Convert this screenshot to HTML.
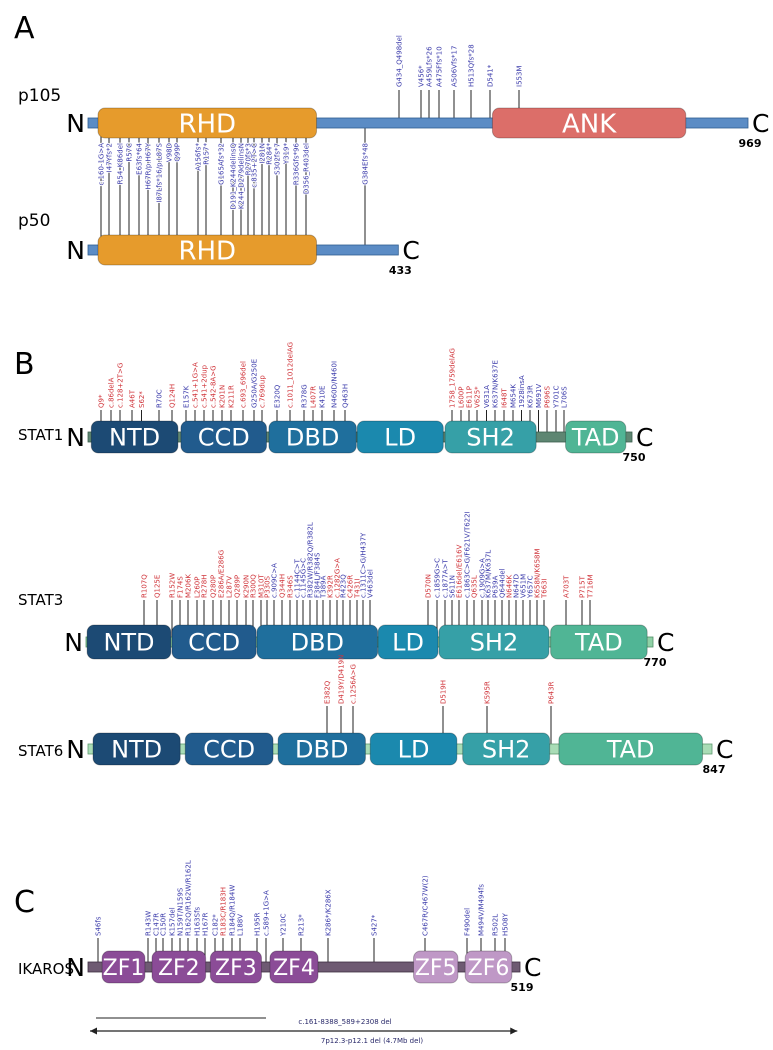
<!DOCTYPE html>
<html><head><meta charset="utf-8"><title>Mutation map</title>
<style>
html,body{margin:0;padding:0;background:#fff;}
svg{display:block;font-family:"DejaVu Sans","Liberation Sans",sans-serif;}
.mut{font-size:7px;}
</style></head>
<body>
<svg id="chart" width="773" height="1050" viewBox="0 0 773 1050" xmlns="http://www.w3.org/2000/svg">
<text x="14" y="38" font-size="30">A</text>
<text x="14" y="374" font-size="30">B</text>
<text x="14" y="912" font-size="30">C</text>
<text x="18" y="101" font-size="17">p105</text>
<text x="18" y="226" font-size="17">p50</text>
<text x="18" y="440" font-size="15">STAT1</text>
<text x="18" y="605" font-size="15">STAT3</text>
<text x="18" y="756" font-size="15">STAT6</text>
<text x="18" y="974" font-size="15">IKAROS</text>
</svg>
<script>
// ---------- NFKB1 (p105 / p50) ----------
const nfkbKnotAa = [1,40,47,54,57,63,67,87,98,99,156,157,165,191,244,270,279,281,284,302,319,336,356,384,434,456,459,475,506,513,541,553,969];
const nfkbKnotPx = [88,101,109,120,129,139,148,159,169,177,198,206,221,233,241,248,254,262,269,277,286,296,306,365,399,421,429,439,454,471,490,519,748];
const p105DomainNames = ['RHD','ANK'];
const p105DomainStart = [31,542];
const p105DomainEnd = [361,856];
const p50DomainNames = ['RHD'];
const p50DomainStart = [31];
const p50DomainEnd = [361];
const p105TopAa = [434,456,459,475,506,513,541,553];
const p105TopLabels = ['G434_Q498del','V456*','A459Lfs*26','A475Ffs*10','A506Vfs*17','H513Qfs*28','D541*','I553M'];
const p105TopClass = ['b','b','b','b','b','b','b','b'];
const sharedAa = [40,47,54,57,63,67,87,98,99,156,157,165,191,244,270,279,281,284,302,319,336,356,384];
const sharedLabels = ['c.160-1G>A','I47Yfs*2','R54_K86del','R57C','E63fs*64','H67R/p.H67Y','I87Lfs*16/p.L87S','V98D','Q99P','A156fs*','R157*','G165Afs*32','D191_K244delinsQ','K244_D279delinsN','R270fs*3','c.835+2T>C','I281N','R284*','S302fs*7','Y319*','R336Gfs*96','D356_R403del','G384Efs*48'];
const sharedClass = ['b','b','b','b','b','b','b','b','b','b','b','b','b','b','b','b','b','b','b','b','b','b','b'];

// ---------- STAT1 ----------
const stat1KnotAa = [1,9,20,29,46,62,70,124,157,171,181,193,201,211,231,250,257,320,337,378,407,410,460,463,586,600,611,625,631,637,648,654,660,673,691,696,701,706,750];
const stat1KnotPx = [88,101,111,120,132,141.5,159,172,186,195,204,213,222,231,243,254,262,277,290,304,313,322,334,345,452,461,469,477,486.5,495,504,513,521.5,530,538.5,547,556,564,632];
const stat1DomainNames = ['NTD','CCD','DBD','LD','SH2','TAD'];
const stat1DomainStart = [3,145,286,477,578,707];
const stat1DomainEnd = [138,276,476,576,686,746];
const stat1MutAa = [9,20,29,46,62,70,124,157,171,181,193,201,211,231,250,257,320,337,378,407,410,460,463,586,600,611,625,631,637,648,654,660,673,691,696,701,706];
const stat1MutLabels = ['Q9*','c.86delA','c.128+2T>G','A46T','S62*','R70C','Q124H','E157K','c.541+1G>A','c.541+2dup','c.542-8A>G','K201N','K211R','c.693_696del','G250A/G250E','c.769dup','E320Q','c.1011_1012delAG','R378G','L407R','K410E','N460D/N460I','Q463H','1758_1759delAG','L600P','E611P','V625*','V631A','K637N/K637E','I648T','M654K','1928insA','K673R','M691V','P696S','Y701C','L706S'];
const stat1MutClass = ['r','r','r','r','r','b','r','b','r','r','r','r','r','r','b','r','b','r','b','r','b','b','b','r','r','r','r','b','b','r','b','b','b','b','r','b','b'];

// ---------- STAT3 ----------
const stat3KnotAa = [1,107,125,152,174,206,260,278,280,286,287,289,290,300,310,330,334,344,346,351,360,382,384,389,392,398,423,426,431,437,463,570,593,601,611,616,621,635,636,637,639,644,646,647,651,657,658,663,703,715,716,770];
const stat3KnotPx = [86,144,157,172,180,188,197,204,213,221,229,237,246,253,261,267,274,282,290,297,303,310,317,323,330,337,343,350,357,363,370,428,437,445,452,459,467,474,482,488,495,502,509,516,523,530,537,544,566,582,590,653];
const stat3DomainNames = ['NTD','CCD','DBD','LD','SH2','TAD'];
const stat3DomainStart = [3,152,305,478,595,675];
const stat3DomainEnd = [150,304,477,594,672,765];
const stat3MutAa = [107,125,152,174,206,260,278,280,286,287,289,290,300,310,330,334,344,346,351,360,382,384,389,392,398,423,426,431,437,463,570,593,601,611,616,621,635,636,637,639,644,646,647,651,657,658,663,703,715,716];
const stat3MutLabels = ['R107Q','Q125E','R152W','F174S','M206K','L260P','R278H','Q280P','E286A/E286G','L287V','Q289P','K290N','R300Q','M310T','P330S','c.909C>A','Q344H','R346S','c.1144C>T','c.1145G>C','R382W/R382Q/R382L','F384L/F384S','T389A','K392R','c.1282G>A','R423Q','C426R','T431I','c.1311C>G/H437Y','V463del','D570N','c.1859G>C','c.1877A>T','S611N','E616del/E616V','c.1863C>G/F621V/T622I','Q635L','c.1909G>A','K637M/K637L','P639A','Q644del','N646K','N647D','V651M','Y657C','K658N/K658M','T663I','A703T','P715T','T716M'];
const stat3MutClass = ['r','r','r','r','r','r','r','r','r','r','r','r','r','r','r','b','r','r','b','b','b','b','b','r','r','b','r','r','b','b','r','b','b','b','r','b','r','b','b','b','b','r','b','b','b','r','r','r','r','r'];

// ---------- STAT6 ----------
const stat6KnotAa = [1,382,419,425,519,595,643,847];
const stat6KnotPx = [88,327,341,353,443,487,551,712];
const stat6DomainNames = ['NTD','CCD','DBD','LD','SH2','TAD'];
const stat6DomainStart = [9,156,304,443,553,653];
const stat6DomainEnd = [148,296,438,543,642,835];
const stat6MutAa = [382,419,425,519,595,643];
const stat6MutLabels = ['E382Q','D419Y/D419N','c.1256A>G','D519H','K595R','P643R'];
const stat6MutClass = ['r','r','r','r','r','r'];

// ---------- IKAROS ----------
const ikKnotAa = [1,46,143,147,150,157,159,162,163,167,182,183,184,188,195,197,210,213,286,427,467,490,494,502,508,519];
const ikKnotPx = [88,98,148,156,163,172,180,188,197,205,215,223,232,240,257,266,283,301,328,374,425,467,481,495,505,520];
const ikDomainNames = ['ZF1','ZF2','ZF3','ZF4','ZF5','ZF6'];
const ikDomainStart = [54,145,175,200,458,489];
const ikDomainEnd = [137,168,196,259,485,513];
const ikMutAa = [46,143,147,150,157,159,162,163,167,182,183,184,188,195,197,210,213,286,427,467,490,494,502,508];
const ikMutLabels = ['S46fs','R143W','C147R','C150R','K157del','N159T/N159S','R162Q/R162W/R162L','H163Sfs','H167R','C182*','R183C/R183H','R184Q/R184W','L188V','H195R','c.589+1G>A','Y210C','R213*','K286*/K286X','S427*','C467R/C467W(2)','F490del','M494V/M494fs','R502L','H508Y'];
const ikMutClass = ['b','b','b','b','b','b','b','b','b','b','r','b','b','b','b','b','b','b','b','b','b','b','b','b'];
const ikDelStartAa = [37,10];
const ikDelEndAa = [197,517];
const ikDelLabels = ['c.161-8388_589+2308 del','7p12.3-p12.1 del (4.7Mb del)'];

const NS = 'http://www.w3.org/2000/svg';
const svg = document.getElementById('chart');
const RED = '#d0343a', BLUE = '#3c3cab';

function makeScale(ka, kp) {
  return function (aa) {
    if (aa <= ka[0]) return kp[0] + (aa - ka[0]) * (kp[1] - kp[0]) / (ka[1] - ka[0]);
    for (let i = 1; i < ka.length; i++) {
      if (aa <= ka[i]) return kp[i - 1] + (aa - ka[i - 1]) * (kp[i] - kp[i - 1]) / (ka[i] - ka[i - 1]);
    }
    const n = ka.length - 1;
    return kp[n] + (aa - ka[n]) * (kp[n] - kp[n - 1]) / (ka[n] - ka[n - 1]);
  };
}
function mk(tag, parent) { const e = document.createElementNS(NS, tag); parent.appendChild(e); return e; }

function drawStems(g, x, aaArr, labels, cls, yTop, yBot, textY, anchor) {
  for (let i = 0; i < aaArr.length; i++) {
    const px = x(aaArr[i]);
    const ln = mk('line', g);
    
    
    ln.setAttribute('x1', px); ln.setAttribute('x2', px);
    ln.setAttribute('y1', yTop); ln.setAttribute('y2', yBot);
    ln.setAttribute('stroke', '#222'); ln.setAttribute('stroke-width', '1');
  }
  for (let i = 0; i < aaArr.length; i++) {
    const px = x(aaArr[i]);
    const t = mk('text', g);
    
    
    t.setAttribute('class', 'mut');
    t.setAttribute('transform', 'translate(' + (px + 2.5) + ',' + textY + ') rotate(-90)');
    t.setAttribute('text-anchor', anchor);
    t.setAttribute('fill', cls[i] === 'r' ? RED : BLUE);
    if (anchor === 'end') { t.setAttribute('stroke', '#fff'); t.setAttribute('stroke-width', '2'); t.setAttribute('paint-order', 'stroke'); }
    t.textContent = labels[i];
  }
}

function drawProtein(g, x, cy, endAa, bbColor, bbStroke, names, starts, ends, colors, boxH, fontSize, lenLabel) {
  const x0 = x(1), x1 = x(endAa);
  const bb = mk('rect', g);
  
  
  bb.setAttribute('x', x0); bb.setAttribute('y', cy - 5); bb.setAttribute('width', x1 - x0); bb.setAttribute('height', 10);
  bb.setAttribute('fill', bbColor); bb.setAttribute('stroke', bbStroke); bb.setAttribute('stroke-width', '0.8');
  for (let i = 0; i < names.length; i++) {
    const a = x(starts[i]), b = x(ends[i]);
    const r = mk('rect', g);
    
    
    r.setAttribute('x', a); r.setAttribute('y', cy - boxH / 2); r.setAttribute('width', b - a); r.setAttribute('height', boxH);
    r.setAttribute('rx', 7); r.setAttribute('fill', colors[i]); r.setAttribute('stroke', 'rgba(0,0,0,0.25)'); r.setAttribute('stroke-width', '1');
    const t = mk('text', g);
    
    
    t.setAttribute('x', (a + b) / 2); t.setAttribute('y', cy + fontSize * 0.36);
    t.setAttribute('text-anchor', 'middle'); t.setAttribute('font-size', fontSize); t.setAttribute('fill', '#fff');
    t.textContent = names[i];
  }
  const n = mk('text', g);
  
  
  n.setAttribute('x', x0 - 3); n.setAttribute('y', cy + 9); n.setAttribute('text-anchor', 'end'); n.setAttribute('font-size', 25);
  n.textContent = 'N';
  const c = mk('text', g);
  
  
  c.setAttribute('x', x1 + 4); c.setAttribute('y', cy + 9); c.setAttribute('font-size', 25);
  c.textContent = 'C';
  const l = mk('text', g);
  
  
  l.setAttribute('x', x1 + 2); l.setAttribute('y', cy + 24); l.setAttribute('text-anchor', 'middle');
  l.setAttribute('font-size', 11); l.setAttribute('font-weight', 'bold');
  l.textContent = lenLabel;
}

const statColors = ['#1c4a74','#215b8d','#1f6f9d','#1b89ae','#36a0a7','#50b595'];

// Panel A
const gA = mk('g', svg);


const xN = makeScale(nfkbKnotAa, nfkbKnotPx);
drawStems(gA, xN, p105TopAa, p105TopLabels, p105TopClass, 90, 123, 87, 'start');
drawStems(gA, xN, sharedAa, sharedLabels, sharedClass, 123, 250, 143, 'end');
drawProtein(gA, xN, 123, 969, '#5b8cc5', '#2f5d8f', p105DomainNames, p105DomainStart, p105DomainEnd, ['#e69b2c','#dc6e69'], 30, 26, '969');
drawProtein(gA, xN, 250, 433, '#5b8cc5', '#2f5d8f', p50DomainNames, p50DomainStart, p50DomainEnd, ['#e69b2c'], 30, 26, '433');

// STAT1
const g1 = mk('g', svg);


const x1s = makeScale(stat1KnotAa, stat1KnotPx);
drawStems(g1, x1s, stat1MutAa, stat1MutLabels, stat1MutClass, 410, 437, 408, 'start');
drawProtein(g1, x1s, 437, 750, '#5e8672', '#3b5d4d', stat1DomainNames, stat1DomainStart, stat1DomainEnd, statColors, 32, 24, '750');

// STAT3
const g3 = mk('g', svg);


const x3s = makeScale(stat3KnotAa, stat3KnotPx);
drawStems(g3, x3s, stat3MutAa, stat3MutLabels, stat3MutClass, 600, 642, 598, 'start');
drawProtein(g3, x3s, 642, 770, '#8fd1a6', '#4f8f66', stat3DomainNames, stat3DomainStart, stat3DomainEnd, statColors, 34, 24, '770');

// STAT6
const g6 = mk('g', svg);


const x6s = makeScale(stat6KnotAa, stat6KnotPx);
drawStems(g6, x6s, stat6MutAa, stat6MutLabels, stat6MutClass, 706, 749, 704, 'start');
drawProtein(g6, x6s, 749, 847, '#a9dcb6', '#5f9a70', stat6DomainNames, stat6DomainStart, stat6DomainEnd, statColors, 32, 24, '847');

// IKAROS
const gI = mk('g', svg);


const xI = makeScale(ikKnotAa, ikKnotPx);
drawStems(gI, xI, ikMutAa, ikMutLabels, ikMutClass, 938, 967, 936, 'start');
drawProtein(gI, xI, 967, 519, '#6e5a72', '#3e2f42', ikDomainNames, ikDomainStart, ikDomainEnd, ['#8b4c97','#8b4c97','#8b4c97','#8b4c97','#bf98c6','#bf98c6'], 32, 22, '519');

const delY = [1018, 1031];
for (let i = 0; i < ikDelLabels.length; i++) {
  const a = xI(ikDelStartAa[i]), b = xI(ikDelEndAa[i]);
  const ln = mk('line', gI);
  
  
  ln.setAttribute('x1', a); ln.setAttribute('x2', b); ln.setAttribute('y1', delY[i]); ln.setAttribute('y2', delY[i]);
  ln.setAttribute('stroke', '#222'); ln.setAttribute('stroke-width', i === 0 ? 1 : 1.2);
  if (i === 1) {
    const ah = mk('path', gI);
    
    
    ah.setAttribute('d', 'M' + a + ',' + delY[i] + ' l7,-3.5 l0,7 z M' + b + ',' + delY[i] + ' l-7,-3.5 l0,7 z');
    ah.setAttribute('fill', '#222');
  }
  const t = mk('text', gI);
  
  
  t.setAttribute('x', i === 0 ? 345 : 372); t.setAttribute('y', delY[i] + (i === 0 ? 6 : 12));
  t.setAttribute('text-anchor', 'middle'); t.setAttribute('font-size', 7); t.setAttribute('fill', '#2a2a6a');
  t.textContent = ikDelLabels[i];
}
</script>
</body></html>
